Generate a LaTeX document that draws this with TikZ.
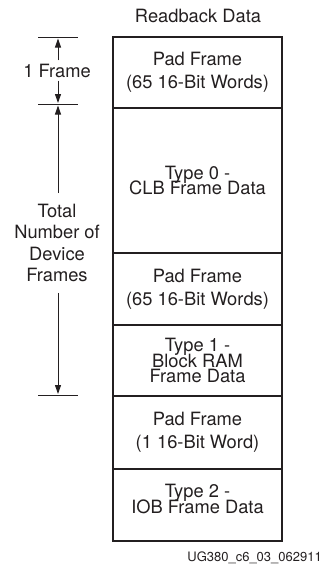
\documentclass[tikz,border=0pt]{standalone}
\usepackage{fontspec}
\setmainfont{TeX Gyre Heros}
\usetikzlibrary{arrows.meta}
\definecolor{ink}{RGB}{35,31,32}
\newcommand{\tightlines}{\fontsize{18.3}{15.8}\selectfont\lineskiplimit=-100pt\relax\lineskip=0pt\relax}
\begin{document}
\begin{tikzpicture}[x=1pt,y=-1pt,
  every node/.style={inner sep=0pt, text=ink},
  big/.style={font=\fontsize{18.3}{23}\selectfont},
  tight/.style={font=\tightlines},
  seg/.style={draw=ink, line width=2pt, minimum width=169pt, align=center, anchor=north},
  tick/.style={draw=ink, line width=1pt},
  dim/.style={draw=ink, line width=1pt, -{Triangle[length=9pt,width=6pt]}}
]
\useasboundingbox (0,0) rectangle (322,565);

% title
\node[big] (title) at (198,15.5) {Readback Data};

% stacked frames
\node[seg, big, minimum height=71pt]  (pad1) at (197.5,36)  {Pad Frame\\(65 16-Bit Words)};
\node[seg, tight, minimum height=145pt] (t0) at (197.5,107) {Type 0 -\\CLB Frame Data};
\node[seg, big, minimum height=72pt]  (pad2) at (197.5,252) {Pad Frame\\(65 16-Bit Words)};
\node[seg, tight, minimum height=71pt] (t1) at (197.5,324) {Type 1 -\\Block RAM\\Frame Data};
\node[seg, big, minimum height=73pt]  (pad3) at (197.5,395) {Pad Frame\\(1 16-Bit Word)};
\node[seg, tight, minimum height=72pt, text depth=12pt] (t2) at (197.5,468) {Type 2 -\\IOB Frame Data};

% dimension ticks
\coordinate (k1l) at (38,37);  \coordinate (k1r) at (78,37);
\coordinate (k2l) at (38,104); \coordinate (k2r) at (78,104);
\coordinate (k3l) at (38,395); \coordinate (k3r) at (78,395);
\draw[tick] (k1l) -- (k1r);
\draw[tick] (k2l) -- (k2r);
\draw[tick] (k3l) -- (k3r);

% arrow tips
\coordinate (a1) at (58,38.5);
\coordinate (a2) at (58,103);
\coordinate (a3) at (58,105.5);
\coordinate (a4) at (58,394);

% labels
\node[big, text height=13pt, text depth=0pt, inner ysep=3.5pt, anchor=base] (one) at (57,77) {1 Frame};
\node[font=\fontsize{18.3}{21.3}\selectfont, align=center, inner ysep=11pt] (total) at (57,243) {Total\\Number of\\Device\\Frames};

\draw[dim] (one.north -| a1) -- (a1);
\draw[dim] (one.south -| a2) -- (a2);
\draw[dim] (total.north -| a3) -- (a3);
\draw[dim] (total.south -| a4) -- (a4);

% figure id
\node[font=\fontsize{13}{15}\selectfont, anchor=east] (fig) at (322,558) {UG380\_c6\_03\_062911};
\end{tikzpicture}
\end{document}
